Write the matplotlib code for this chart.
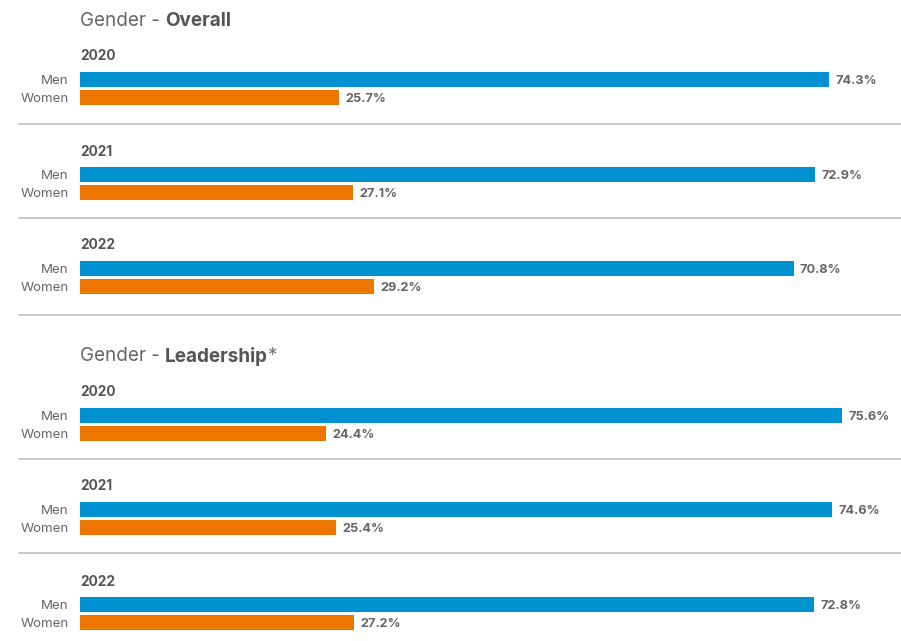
import matplotlib.pyplot as plt
from matplotlib.lines import Line2D

plt.rcParams['font.family'] = ['Inter', 'DejaVu Sans']

# data
groups = ["Men", "Women"]
years = ["2020", "2021", "2022"]
overall_men = [74.3, 72.9, 70.8]
overall_women = [25.7, 27.1, 29.2]
leader_men = [75.6, 74.6, 72.8]
leader_women = [24.4, 25.4, 27.2]

BLUE = "#0091d1"
ORANGE = "#ec7600"
GREY = "#666666"

W, H = 901, 641
fig = plt.figure(figsize=(W / 100, H / 100), dpi=100)

px_per_pct = 10.08
bar_left = 80

def fy(py):
    return 1 - py / H

def panel(men_center, year, men_val, women_val):
    # axes spans men bar center - 9 px to women bar center + 9 px
    top = men_center - 9
    h = 36
    ax = fig.add_axes([bar_left / W, fy(top + h), (W - bar_left) / W, h / H])
    ax.set_xlim(0, (W - bar_left) / px_per_pct)
    ax.set_ylim(1.5, -0.5)
    bars = ax.barh([0, 1], [men_val, women_val], height=0.83,
                   color=[BLUE, ORANGE])
    for b, v in zip(bars, [men_val, women_val]):
        ax.annotate(f"{v:.1f}%", (b.get_width(), b.get_y() + b.get_height() / 2),
                    xytext=(4.5, -0.8), textcoords="offset points",
                    va="center", ha="left", fontsize=9.2, fontweight="bold",
                    color=GREY, annotation_clip=False)
    ax.set_yticks([0, 1])
    ax.set_yticklabels(groups, fontsize=9.6, color=GREY)
    ax.tick_params(axis="y", length=0, pad=8)
    ax.set_xticks([])
    for s in ax.spines.values():
        s.set_visible(False)
    ax.patch.set_alpha(0)
    fig.text(bar_left / W, fy(men_center - 23), year, fontsize=9.8,
             fontweight="bold", color="#555555", va="center", ha="left")

def separator(py):
    fig.add_artist(Line2D([19 / W, 1], [fy(py), fy(py)], color="#bbbbbb",
                          lw=1.1, transform=fig.transFigure))

def title(py, bold, star=False):
    t1 = fig.text(bar_left / W, fy(py), "Gender - ", fontsize=13.6,
                  color="#666666", va="center", ha="left")
    fig.canvas.draw()
    bb = t1.get_window_extent()
    t2 = fig.text(bb.x1 / W, fy(py), bold, fontsize=13.6, fontweight="bold",
                  color="#555555", va="center", ha="left")
    if star:
        fig.canvas.draw()
        bb2 = t2.get_window_extent()
        fig.text(bb2.x1 / W, fy(py), "*", fontsize=13.6, color="#777777",
                 va="center", ha="left")

title(21, "Overall")
overall_centers = [79.5, 174.5, 268.5]
for c, yr, m, w in zip(overall_centers, years, overall_men, overall_women):
    panel(c, yr, m, w)
for py in [124, 218, 315]:
    separator(py)

title(356, "Leadership", star=True)
leader_centers = [415.5, 509.5, 604.5]
for c, yr, m, w in zip(leader_centers, years, leader_men, leader_women):
    panel(c, yr, m, w)
for py in [459, 553]:
    separator(py)

fig.savefig("out.png", dpi=100)
